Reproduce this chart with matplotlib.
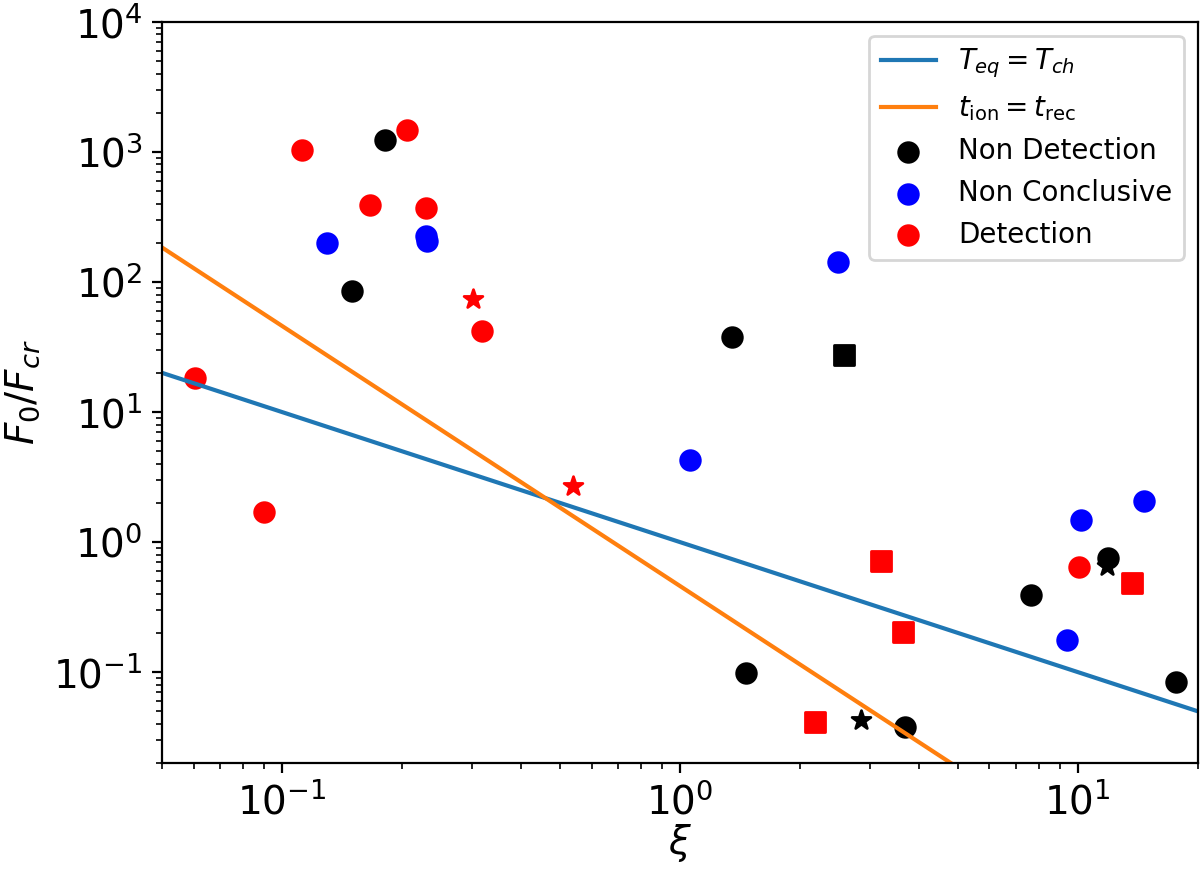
import matplotlib
matplotlib.use("Agg")
import matplotlib.pyplot as plt

# reference lines (end points, log-log straight lines)
line_xi = [0.05, 20.0]
teq_tch = [20.0, 0.05]
tion_trec = [184.0, 0.00115]

# Non Detection (black circles)
nd_xi = [0.182, 0.150, 1.35, 1.47, 3.69, 7.65, 11.9, 17.6]
nd_f = [1230, 85, 38, 0.098, 0.038, 0.39, 0.75, 0.084]

# Non Conclusive (blue circles)
nc_xi = [0.130, 0.230, 0.232, 1.06, 2.50, 10.2, 14.7, 9.4]
nc_f = [200, 225, 205, 4.25, 142, 1.48, 2.08, 0.177]

# Detection (red circles)
det_xi = [0.0604, 0.090, 0.1125, 0.167, 0.206, 0.230, 0.319, 10.05]
det_f = [18.3, 1.70, 1040, 390, 1470, 370, 42, 0.64]

# extra markers
red_star_xi = [0.302, 0.538]
red_star_f = [74, 2.71]
black_star_xi = [2.86, 11.85]
black_star_f = [0.0425, 0.65]
red_sq_xi = [2.19, 3.21, 3.64, 13.7]
red_sq_f = [0.041, 0.72, 0.203, 0.48]
black_sq_xi = [2.58]
black_sq_f = [27.4]

fig = plt.figure(figsize=(6, 4.36), dpi=200)
ax = fig.add_axes([0.135, 0.125, 0.863, 0.85])

ax.plot(line_xi, teq_tch, color='#1f77b4', label=r'$T_{eq} = T_{ch}$')
ax.plot(line_xi, tion_trec, color='#ff7f0e', label=r'$t_{\rm ion} = t_{\rm rec}$')

ms = 50
ax.scatter(red_star_xi, red_star_f, s=ms, c='red', marker='*')
ax.scatter(black_star_xi, black_star_f, s=ms, c='black', marker='*')
ax.scatter(red_sq_xi, red_sq_f, s=ms, c='red', marker='s')
ax.scatter(black_sq_xi, black_sq_f, s=ms, c='black', marker='s')

ax.scatter(nd_xi, nd_f, s=ms, c='black', label='Non Detection')
ax.scatter(nc_xi, nc_f, s=ms, c='blue', label='Non Conclusive')
ax.scatter(det_xi, det_f, s=ms, c='red', label='Detection')

ax.set_xscale('log')
ax.set_yscale('log')
ax.set_xlim(0.05, 20)
ax.set_ylim(0.02, 1e4)

ax.set_xlabel(r'$\xi$', fontsize=14, labelpad=0)
ax.set_ylabel(r'$F_0/F_{cr}$', fontsize=14)
ax.tick_params(axis='both', which='major', labelsize=14)

ax.legend(loc='upper right')

fig.savefig('out.png', dpi=200)
